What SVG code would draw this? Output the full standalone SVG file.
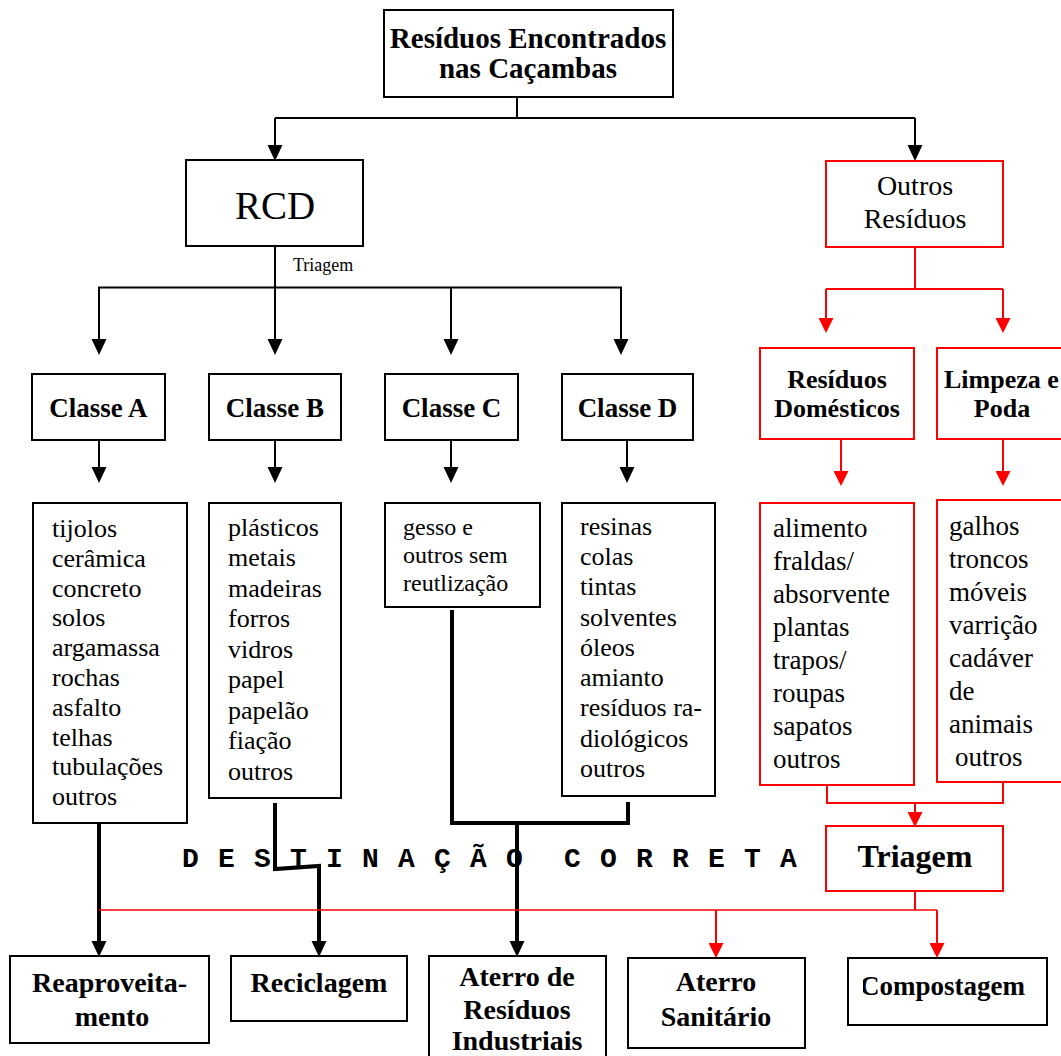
<svg xmlns="http://www.w3.org/2000/svg" width="1061" height="1056" viewBox="0 0 1061 1056">
  <style>
    .box { fill: #fff; stroke: #000; stroke-width: 2; }
    .rbox { fill: #fff; stroke: #f00; stroke-width: 2; }
    .t { font-family: "Liberation Serif", "Times New Roman", serif; fill: #000; }
    .b { font-weight: bold; }
    .c { text-anchor: middle; }
    .ln { fill: none; stroke: #000; stroke-width: 2; }
    .thick { fill: none; stroke: #000; stroke-width: 4; }
    .rln { fill: none; stroke: #f00; stroke-width: 2; }
    .rthin { fill: none; stroke: #f00; stroke-width: 1.6; }
    .mono { font-family: "Liberation Mono", "Courier New", monospace; font-weight: bold; font-size: 28px; letter-spacing: 19.2px; }
  </style>
  <defs>
    <marker id="ah" markerUnits="userSpaceOnUse" markerWidth="16" markerHeight="16" viewBox="0 0 15 14" refX="0" refY="7" orient="auto">
      <path d="M0,0 L15,7 L0,14 z" fill="#000"/>
    </marker>
    <marker id="ahr" markerUnits="userSpaceOnUse" markerWidth="15" markerHeight="15" viewBox="0 0 14 14" refX="0" refY="7" orient="auto">
      <path d="M0,0 L14,7 L0,14 z" fill="#f00"/>
    </marker>
    <clipPath id="compClip">
      <rect x="863" y="958" width="190" height="70"/>
    </clipPath>
  </defs>

  <!-- connectors -->
  <g id="connectors">
    <!-- top split -->
    <path class="ln" d="M517,97 V118 M275,118 H915"/>
    <path class="ln" d="M275,118 V145" marker-end="url(#ah)"/>
    <path class="ln" d="M915,118 V145" marker-end="url(#ah)"/>
    <!-- RCD sorting into classes -->
    <path class="ln" d="M275,246 V288 M98,287.5 H622"/>
    <path class="ln" d="M99,287 V339" marker-end="url(#ah)"/>
    <path class="ln" d="M275,287 V339" marker-end="url(#ah)"/>
    <path class="ln" d="M451,287 V339" marker-end="url(#ah)"/>
    <path class="ln" d="M621,288 V339" marker-end="url(#ah)"/>
    <!-- classes to item lists -->
    <path class="ln" d="M99,440 V467" marker-end="url(#ah)"/>
    <path class="ln" d="M275,440 V467" marker-end="url(#ah)"/>
    <path class="ln" d="M451,440 V467" marker-end="url(#ah)"/>
    <path class="ln" d="M627,440 V467" marker-end="url(#ah)"/>
    <!-- destinations of construction waste -->
    <path class="thick" d="M99,823 V941" marker-end="url(#ah)"/>
    <path class="thick" d="M275,803 V869 L319,866 V941" stroke-width="3.5" marker-end="url(#ah)"/>
    <path class="thick" d="M452,610 V823 H628 V802" stroke-width="3.5"/>
    <path class="thick" d="M517,823 V941" stroke-width="3.5" marker-end="url(#ah)"/>
    <!-- other waste (red) -->
    <path class="rln" d="M915,247 V289 M826,289 H1003"/>
    <path class="rln" d="M826,289 V318" stroke-width="2.5" marker-end="url(#ahr)"/>
    <path class="rln" d="M1003,289 V318" stroke-width="2.5" marker-end="url(#ahr)"/>
    <path class="rln" d="M841,439 V471" stroke-width="2.5" marker-end="url(#ahr)"/>
    <path class="rln" d="M1003,439 V471" stroke-width="2.5" marker-end="url(#ahr)"/>
    <path class="rln" d="M827,785 V803 H1003 V782"/>
    <path class="rln" d="M915,803 V812" stroke-width="2.5" marker-end="url(#ahr)"/>
    <path class="rln" d="M915,891 V910"/>
    <path class="rthin" d="M99,910 H937"/>
    <path class="rln" d="M716,910 V943" stroke-width="2.5" marker-end="url(#ahr)"/>
    <path class="rln" d="M937,910 V943" stroke-width="2.5" marker-end="url(#ahr)"/>
  </g>

  <g id="residuos-encontrados">
    <rect class="box" x="384" y="10" width="289" height="87"/>
    <text class="t b c" x="528" y="48" font-size="29">Resíduos Encontrados</text>
    <text class="t b c" x="528" y="78" font-size="29">nas Caçambas</text>
  </g>

  <g id="rcd">
    <rect class="box" x="186" y="160" width="177" height="86"/>
    <text class="t c" x="275" y="219" font-size="39">RCD</text>
  </g>
  <text id="triagem-rcd" class="t" x="293" y="271" font-size="18">Triagem</text>

  <g id="outros-residuos">
    <rect class="rbox" x="826" y="161" width="177" height="86"/>
    <text class="t c" x="915" y="195" font-size="28">Outros</text>
    <text class="t c" x="915" y="228" font-size="28">Resíduos</text>
  </g>

  <g id="classe-a">
    <rect class="box" x="32" y="374" width="133" height="66"/>
    <text class="t b c" x="98.5" y="417" font-size="27">Classe A</text>
  </g>
  <g id="classe-b">
    <rect class="box" x="209" y="374" width="132" height="66"/>
    <text class="t b c" x="275" y="417" font-size="27">Classe B</text>
  </g>
  <g id="classe-c">
    <rect class="box" x="385" y="374" width="133" height="66"/>
    <text class="t b c" x="451.5" y="417" font-size="27">Classe C</text>
  </g>
  <g id="classe-d">
    <rect class="box" x="562" y="374" width="131" height="66"/>
    <text class="t b c" x="627.5" y="417" font-size="27">Classe D</text>
  </g>

  <g id="residuos-domesticos">
    <rect class="rbox" x="760" y="348" width="154" height="91"/>
    <text class="t b c" x="837" y="388" font-size="26">Resíduos</text>
    <text class="t b c" x="837" y="417" font-size="26">Domésticos</text>
  </g>
  <g id="limpeza-poda">
    <rect class="rbox" x="937" y="348" width="130" height="91"/>
    <text class="t b" x="944" y="388" font-size="26">Limpeza e</text>
    <text class="t b c" x="1002" y="417" font-size="26">Poda</text>
  </g>

  <g id="itens-a">
    <rect class="box" x="33" y="503" width="154" height="320"/>
    <text class="t" font-size="26">
      <tspan x="52" y="537">tijolos</tspan>
      <tspan x="52" y="567">cerâmica</tspan>
      <tspan x="52" y="597">concreto</tspan>
      <tspan x="52" y="626">solos</tspan>
      <tspan x="52" y="656">argamassa</tspan>
      <tspan x="52" y="686">rochas</tspan>
      <tspan x="52" y="716">asfalto</tspan>
      <tspan x="52" y="746">telhas</tspan>
      <tspan x="52" y="775">tubulações</tspan>
      <tspan x="52" y="805">outros</tspan>
    </text>
  </g>
  <g id="itens-b">
    <rect class="box" x="209" y="503" width="132" height="295"/>
    <text class="t" font-size="26">
      <tspan x="228" y="536">plásticos</tspan>
      <tspan x="228" y="566">metais</tspan>
      <tspan x="228" y="597">madeiras</tspan>
      <tspan x="228" y="627">forros</tspan>
      <tspan x="228" y="658">vidros</tspan>
      <tspan x="228" y="688">papel</tspan>
      <tspan x="228" y="719">papelão</tspan>
      <tspan x="228" y="749">fiação</tspan>
      <tspan x="228" y="780">outros</tspan>
    </text>
  </g>
  <g id="itens-c">
    <rect class="box" x="385" y="503" width="155" height="104"/>
    <text class="t" font-size="24">
      <tspan x="403" y="535">gesso e</tspan>
      <tspan x="403" y="563">outros sem</tspan>
      <tspan x="403" y="591">reutlização</tspan>
    </text>
  </g>
  <g id="itens-d">
    <rect class="box" x="562" y="503" width="153" height="293"/>
    <text class="t" font-size="26">
      <tspan x="580" y="535">resinas</tspan>
      <tspan x="580" y="565">colas</tspan>
      <tspan x="580" y="595">tintas</tspan>
      <tspan x="580" y="626">solventes</tspan>
      <tspan x="580" y="656">óleos</tspan>
      <tspan x="580" y="686">amianto</tspan>
      <tspan x="580" y="716">resíduos ra-</tspan>
      <tspan x="580" y="747">diológicos</tspan>
      <tspan x="580" y="777">outros</tspan>
    </text>
  </g>

  <g id="itens-domesticos">
    <rect class="rbox" x="760" y="503" width="154" height="282"/>
    <text class="t" font-size="27">
      <tspan x="773" y="537">alimento</tspan>
      <tspan x="773" y="570">fraldas/</tspan>
      <tspan x="773" y="603">absorvente</tspan>
      <tspan x="773" y="636">plantas</tspan>
      <tspan x="773" y="669">trapos/</tspan>
      <tspan x="773" y="702">roupas</tspan>
      <tspan x="773" y="735">sapatos</tspan>
      <tspan x="773" y="768">outros</tspan>
    </text>
  </g>
  <g id="itens-limpeza">
    <rect class="rbox" x="937" y="500" width="130" height="282"/>
    <text class="t" font-size="27">
      <tspan x="949" y="535">galhos</tspan>
      <tspan x="949" y="568">troncos</tspan>
      <tspan x="949" y="601">móveis</tspan>
      <tspan x="949" y="634">varrição</tspan>
      <tspan x="949" y="667">cadáver</tspan>
      <tspan x="949" y="700">de</tspan>
      <tspan x="949" y="733">animais</tspan>
      <tspan x="955" y="766">outros</tspan>
    </text>
  </g>

  <g id="triagem">
    <rect class="rbox" x="826" y="826" width="177" height="65"/>
    <text class="t b c" x="915" y="867" font-size="32">Triagem</text>
  </g>

  <text id="destinacao-correta" class="mono" y="867"><tspan x="182">DESTINAÇÃO</tspan><tspan x="564">CORRETA</tspan></text>

  <g id="reaproveitamento">
    <rect class="box" x="10" y="956" width="199" height="87"/>
    <text class="t b" x="32" y="992" font-size="28">Reaproveita-</text>
    <text class="t b c" x="112" y="1026" font-size="28">mento</text>
  </g>
  <g id="reciclagem">
    <rect class="box" x="231" y="956" width="176" height="65"/>
    <text class="t b c" x="319" y="992" font-size="28">Reciclagem</text>
  </g>
  <g id="aterro-industriais">
    <rect class="box" x="429" y="956" width="177" height="110"/>
    <text class="t b c" x="517" y="986" font-size="28">Aterro de</text>
    <text class="t b c" x="517" y="1019" font-size="28">Resíduos</text>
    <text class="t b c" x="517" y="1050" font-size="28">Industriais</text>
  </g>
  <g id="aterro-sanitario">
    <rect class="box" x="628" y="958" width="177" height="90"/>
    <text class="t b c" x="716" y="991" font-size="28">Aterro</text>
    <text class="t b c" x="716" y="1026" font-size="28">Sanitário</text>
  </g>
  <g id="compostagem">
    <rect class="box" x="848" y="958" width="199" height="67"/>
    <text class="t b" x="860" y="995" font-size="27" clip-path="url(#compClip)">Compostagem</text>
  </g>
</svg>
